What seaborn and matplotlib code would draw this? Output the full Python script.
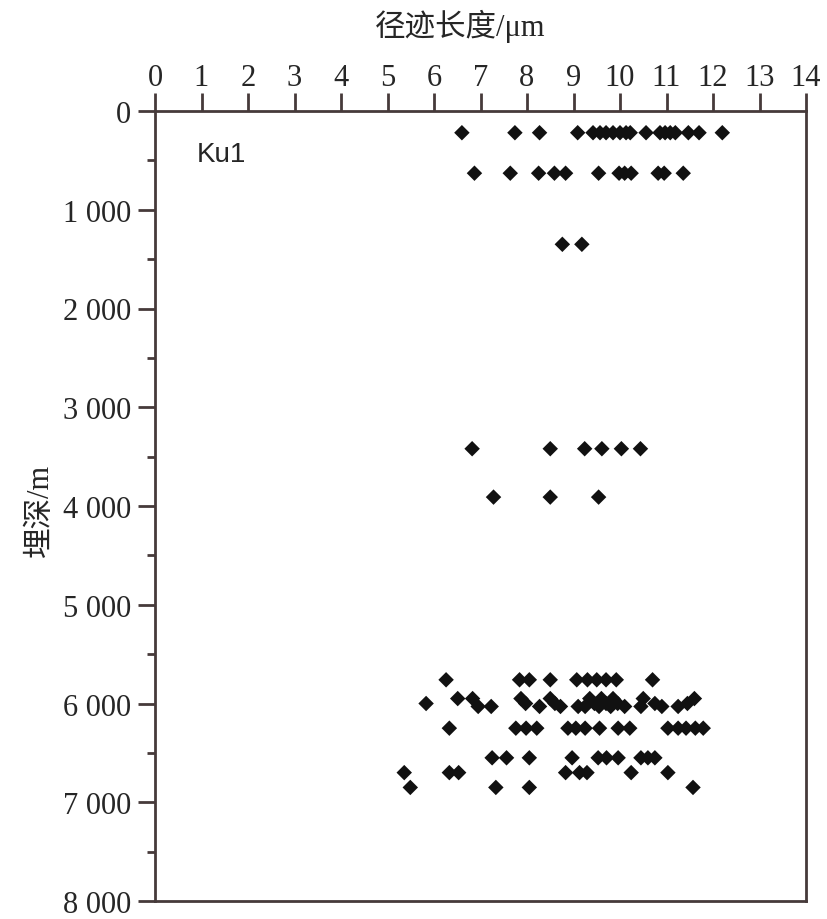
import numpy as np
import pandas as pd
import matplotlib
matplotlib.use("Agg")
import matplotlib.pyplot as plt
from matplotlib.ticker import MultipleLocator
import seaborn as sns

# track length (um) of each point, grouped by burial depth (m)
row_220 = [6.6, 7.74, 8.27, 9.09, 9.42, 9.57, 9.70, 9.85, 10.0, 10.13, 10.22,
           10.56, 10.86, 10.97, 11.08, 11.19, 11.47, 11.7, 12.2]
row_630 = [6.87, 7.64, 8.25, 8.59, 8.83, 9.54, 9.98, 10.1, 10.24, 10.82, 10.95, 11.36]
row_1350 = [8.76, 9.18]
row_3420 = [6.82, 8.5, 9.24, 9.61, 10.03, 10.44]
row_3910 = [7.28, 8.5, 9.54]
row_5760 = [6.26, 7.84, 8.05, 8.5, 9.07, 9.3, 9.5, 9.7, 9.92, 10.7]
row_5950 = [6.51, 6.83, 7.87, 8.5, 9.35, 9.6, 9.85, 10.5, 11.6]
row_6000 = [5.83, 7.97, 8.6, 9.45, 9.7, 9.95, 10.75, 11.45]
row_6030 = [6.95, 7.23, 8.27, 8.72, 9.1, 9.25, 9.55, 9.8, 10.1, 10.45, 10.9, 11.25]
row_6250 = [6.33, 7.76, 7.98, 8.21, 8.88, 9.05, 9.25, 9.56, 9.96, 10.21,
            11.03, 11.25, 11.42, 11.62, 11.79]
row_6550 = [7.25, 7.56, 8.05, 8.97, 9.53, 9.71, 9.96, 10.45, 10.6, 10.75]
row_6700 = [5.36, 6.33, 6.53, 8.83, 9.13, 9.29, 10.24, 11.03]
row_6850 = [5.49, 7.33, 8.05, 11.57]

rows = {220: row_220, 630: row_630, 1350: row_1350, 3420: row_3420,
        3910: row_3910, 5760: row_5760, 5950: row_5950, 6000: row_6000,
        6030: row_6030, 6250: row_6250, 6550: row_6550, 6700: row_6700,
        6850: row_6850}

x_ticks = list(range(0, 15))
y_ticks = [0, 1000, 2000, 3000, 4000, 5000, 6000, 7000, 8000]
y_tick_labels = ["0", "1 000", "2 000", "3 000", "4 000", "5 000",
                 "6 000", "7 000", "8 000"]

records = []
for depth, lengths in rows.items():
    for v in lengths:
        records.append({"length": v, "depth": depth})
df = pd.DataFrame(records)

sns.set_style("white")
plt.rcParams["font.family"] = ["Liberation Serif", "Noto Sans CJK SC"]

spine_col = "#463a3a"

fig = plt.figure(figsize=(8.27, 9.2), dpi=100)
ax = fig.add_axes([155 / 827, 1 - 902 / 920, 651 / 827, 790 / 920])

sns.scatterplot(data=df, x="length", y="depth", marker="D", s=62,
                color="#111111", edgecolor="none", ax=ax, legend=False)

ax.set_xlim(0, 14)
ax.set_ylim(8000, 0)
ax.set_xticks(x_ticks)
ax.set_yticks(y_ticks)
ax.set_yticklabels(y_tick_labels)
ax.yaxis.set_minor_locator(MultipleLocator(500))
ax.xaxis.tick_top()
ax.tick_params(axis="x", which="major", direction="out", length=13, width=2,
               color=spine_col, labelsize=22, pad=1, top=True, bottom=False)
ax.tick_params(axis="y", which="major", direction="out", length=12, width=2,
               color=spine_col, labelsize=22, pad=5, left=True, right=False)
ax.tick_params(axis="y", which="minor", direction="out", length=6, width=2,
               color=spine_col, left=True, right=False)
ax.set_xlabel("")
ax.set_ylabel("")
for sp in ax.spines.values():
    sp.set_visible(True)
    sp.set_color(spine_col)
    sp.set_linewidth(2)

ax.text(0.9, 440, "Ku1", fontsize=20, family=["Liberation Sans"],
        ha="left", va="center")

fig.text(460 / 827, 1 - 26 / 920, "径迹长度/μm", fontsize=22,
         ha="center", va="center")
fig.text(40 / 827, 1 - 510 / 920, "埋深/m", fontsize=22, rotation=90,
         ha="center", va="center")

fig.savefig("out.png", dpi=100)
